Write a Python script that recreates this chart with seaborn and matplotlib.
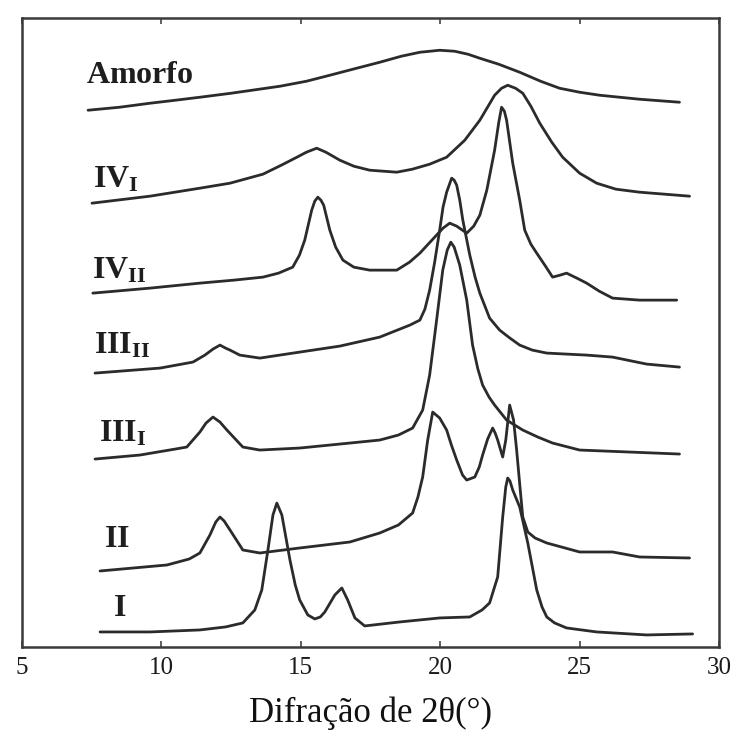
import matplotlib
matplotlib.use("Agg")
import matplotlib.pyplot as plt
import seaborn as sns
import pandas as pd

# X-ray diffraction patterns of cellulose polymorphs (2θ in degrees, intensity in a.u., stacked)
amorfo_2t = [7.37, 8.5, 9.59, 10.5, 11.38, 12.5, 13.5, 14.25, 15.2, 16.04, 17.0, 17.83, 18.6, 19.27,
             19.98, 20.52, 21.0, 21.42, 22.1, 22.85, 23.6, 24.28, 25.0, 25.72, 27.15, 28.58]
amorfo_i = [537, 540, 544, 547, 550, 554, 558, 561, 566, 572, 579, 585, 591, 595,
            597, 596, 593, 589, 583, 575, 566, 559, 555, 552, 548, 545]

iv1_2t = [7.51, 9.59, 11.38, 12.46, 13.64, 14.3, 14.86, 15.2, 15.57, 15.9, 16.40, 16.9, 17.47, 18.44,
          19.0, 19.62, 20.23, 20.88, 21.42, 21.95, 22.2, 22.42, 22.7, 22.96, 23.25, 23.57, 24.0, 24.39,
          25.0, 25.61, 26.3, 27.15, 28.94]
iv1_i = [444, 451, 459, 464, 473, 482, 490, 495, 499, 495, 487, 481, 477, 475,
         478, 483, 490, 507, 527, 552, 559, 562, 559, 554, 541, 524, 505, 490,
         474, 464, 458, 455, 451]

iv2_2t = [7.54, 9.59, 11.38, 12.6, 13.64, 14.2, 14.71, 14.95, 15.14, 15.39, 15.5, 15.61, 15.72, 15.82,
          16.04, 16.25, 16.51, 16.9, 17.47, 18.44, 18.9, 19.27, 19.80, 20.1, 20.34, 20.59, 20.95, 21.2,
          21.42, 21.67, 21.95, 22.10, 22.20, 22.30, 22.38, 22.60, 22.85, 23.03, 23.25, 23.46, 23.75, 24.03,
          24.3, 24.53, 24.9, 25.25, 25.7, 26.18, 27.15, 28.48]
iv2_i = [354, 359, 364, 367, 370, 374, 380, 392, 407, 437, 446, 450, 447, 442,
         417, 400, 387, 380, 377, 377, 385, 394, 410, 419, 424, 421, 414, 421,
         432, 457, 497, 525, 540, 536, 527, 484, 447, 417, 403, 394, 382, 370,
         372, 374, 369, 364, 356, 349, 347, 347]

iii2_2t = [7.62, 9.95, 11.13, 11.56, 11.85, 12.10, 12.3, 12.46, 12.81, 13.53, 14.96, 16.40, 17.83, 18.91,
           19.27, 19.45, 19.62, 19.8, 19.98, 20.1, 20.23, 20.41, 20.5, 20.59, 20.7, 20.81, 21.06, 21.25,
           21.42, 21.77, 22.13, 22.5, 22.85, 23.3, 23.82, 25.25, 26.18, 27.40, 28.58]
iii2_i = [274, 279, 285, 292, 298, 302, 299, 297, 292, 289, 295, 301, 310, 322,
          327, 338, 357, 385, 417, 440, 455, 469, 467, 462, 447, 427, 392, 370,
          354, 329, 317, 309, 302, 297, 294, 292, 290, 283, 280]

iii1_2t = [7.62, 9.23, 10.5, 10.91, 11.38, 11.6, 11.85, 12.1, 12.35, 12.92, 13.53, 14.96, 16.76, 17.83,
           18.5, 19.01, 19.37, 19.62, 19.87, 20.09, 20.25, 20.38, 20.5, 20.70, 20.95, 21.16, 21.35, 21.52,
           21.75, 21.95, 22.38, 22.96, 23.5, 24.03, 25.00, 28.58]
iii1_i = [188, 192, 198, 200, 215, 224, 230, 225, 217, 200, 197, 199, 204, 207,
          212, 219, 237, 272, 327, 377, 397, 405, 400, 382, 347, 302, 278, 262,
          250, 242, 227, 217, 210, 204, 197, 193]

ii_2t = [7.80, 10.20, 11.0, 11.38, 11.74, 11.95, 12.10, 12.25, 12.46, 12.92, 13.53, 14.96, 16.76, 17.83,
         18.5, 19.01, 19.2, 19.37, 19.55, 19.73, 19.98, 20.23, 20.4, 20.59, 20.8, 20.95, 21.24, 21.4,
         21.52, 21.7, 21.88, 21.97, 22.06, 22.24, 22.35, 22.49, 22.63, 22.74, 22.85, 22.96, 23.14, 23.4,
         23.82, 25.00, 26.18, 27.15, 28.94]
ii_i = [76, 82, 88, 94, 112, 125, 130, 126, 117, 97, 94, 99, 105, 114,
        122, 134, 150, 170, 207, 235, 229, 217, 202, 187, 172, 167, 170, 180,
        192, 208, 219, 214, 207, 190, 207, 242, 227, 197, 163, 130, 115, 109,
        104, 95, 95, 90, 89]

i_2t = [7.80, 9.59, 11.38, 12.3, 12.92, 13.35, 13.60, 13.82, 14.00, 14.14, 14.32, 14.61, 14.8, 14.96,
        15.25, 15.50, 15.70, 15.86, 16.22, 16.47, 16.68, 16.94, 17.29, 18.55, 19.98, 21.06, 21.5, 21.77,
        22.06, 22.24, 22.35, 22.42, 22.50, 22.60, 22.85, 23.14, 23.46, 23.65, 23.82, 24.1, 24.53, 25.61,
        27.40, 29.05]
i_i = [15, 15, 17, 20, 24, 37, 57, 97, 132, 144, 132, 87, 62, 47,
       32, 28, 30, 35, 52, 59, 47, 29, 21, 25, 29, 30, 37, 44,
       70, 130, 160, 169, 166, 157, 140, 104, 57, 40, 30, 24, 19, 15,
       12, 13]

x_ticks = [5, 10, 15, 20, 25, 30]
x_label = "Difração de 2θ(°)"

# label text and its anchor (2θ, intensity) for each pattern
series = [
    (amorfo_2t, amorfo_i, r"$\mathbf{Amorfo}$", (7.30, 572)),
    (iv1_2t, iv1_i, r"$\mathbf{IV}_{\mathbf{I}}$", (7.55, 467)),
    (iv2_2t, iv2_i, r"$\mathbf{IV}_{\mathbf{II}}$", (7.50, 376)),
    (iii2_2t, iii2_i, r"$\mathbf{III}_{\mathbf{II}}$", (7.58, 301)),
    (iii1_2t, iii1_i, r"$\mathbf{III}_{\mathbf{I}}$", (7.75, 213)),
    (ii_2t, ii_i, r"$\mathbf{II}$", (7.95, 107)),
    (i_2t, i_i, r"$\mathbf{I}$", (8.25, 38)),
]

sns.set_theme(style="white")
plt.rcParams["font.family"] = ["Liberation Serif", "DejaVu Serif"]
plt.rcParams["mathtext.fontset"] = "custom"
plt.rcParams["mathtext.rm"] = "Liberation Serif"
plt.rcParams["mathtext.bf"] = "Liberation Serif:bold"
plt.rcParams["mathtext.it"] = "Liberation Serif:italic"

fig = plt.figure(figsize=(7.33, 7.31), dpi=100)
ax = fig.add_axes([0.030, 0.115, 0.951, 0.860])

line_color = "#2b2b2b"
for xs, ys, label, (lx, ly) in series:
    df = pd.DataFrame({"2θ": xs, "I": ys})
    sns.lineplot(data=df, x="2θ", y="I", ax=ax, sort=False, estimator=None,
                 color=line_color, linewidth=2.0, solid_joinstyle="round",
                 solid_capstyle="round")
    ax.text(lx, ly, label, fontsize=23, color="#1e1e1e", ha="left", va="center")

ax.set_xlim(5, 30)
ax.set_ylim(0, 629)
ax.set_xticks(x_ticks)
ax.set_xticklabels([str(t) for t in x_ticks], fontsize=18, color="#1a1a1a")
ax.set_yticks([])
ax.set_xlabel(x_label, fontsize=25, color="#111111", labelpad=13)
ax.set_ylabel("")
ax.tick_params(axis="x", direction="in", length=4, width=1.2, color="#444444",
               top=True, bottom=True, pad=7)
for sp in ax.spines.values():
    sp.set_visible(True)
    sp.set_color("#3a3a3a")
    sp.set_linewidth(1.8)

fig.savefig("out.png", dpi=100, facecolor="white")
